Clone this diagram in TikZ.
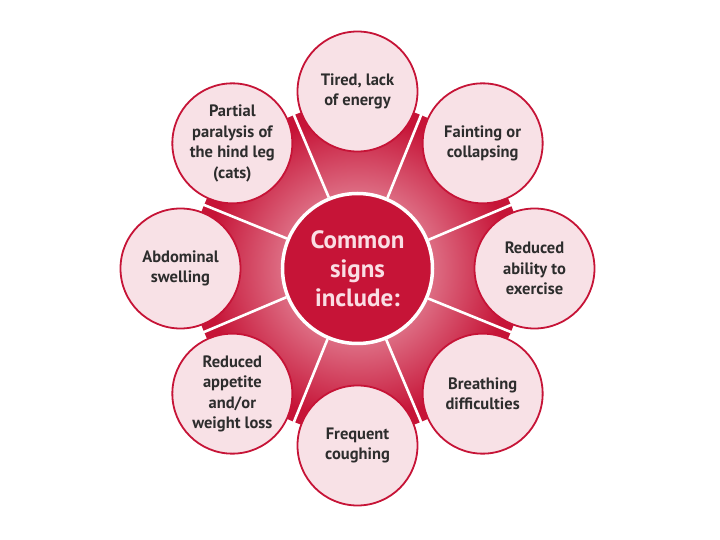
\documentclass[tikz,border=0pt]{standalone}
\usepackage{fontspec}
\setmainfont{PT Sans}
\usepackage{tikz}

\definecolor{signred}{RGB}{198,20,55}
\definecolor{signpink}{RGB}{248,225,230}
\definecolor{signtext}{RGB}{45,45,45}
\definecolor{hubtext}{RGB}{250,222,228}
\definecolor{glow}{RGB}{244,196,206}

\tikzset{
  sign/.style={circle, minimum size=120pt, inner sep=0pt, draw=signred, line width=1.8pt,
    fill=signpink, text=signtext, font=\bfseries\fontsize{16.5}{20.5}\selectfont, align=center},
  hub/.style={circle, minimum size=150pt, inner sep=0pt, draw=white, line width=3.5pt,
    fill=signred, text=hubtext, font=\bfseries\fontsize{25}{29}\selectfont, align=center},
  divider/.style={white, line width=2.6pt}
}

\begin{document}
\begin{tikzpicture}
  \useasboundingbox (-357.5pt,-271.5pt) rectangle (362.5pt,268.5pt);
  % red background with glow round the hub
  \fill[signred] (0,0) circle (166pt);
  \shade[inner color=glow, outer color=signred] (0,0) circle (152pt);
  \node[hub] (signs) at (0,0) {Common\\signs\\include:};
  % white dividers between the stalks
  \foreach \a in {22.5,67.5,...,337.5}
    \draw[divider] (signs.\a) -- (\a:168pt);
  % the signs
  \node[sign] (tired) at (90:177pt) {Tired, lack\\of energy};
  \node[sign] (fainting) at (45:177pt) {Fainting or\\collapsing};
  \node[sign] (exercise) at (0:177pt) {Reduced\\ability to\\exercise};
  \node[sign] (breathing) at (-45:177pt) {Breathing\\difficulties};
  \node[sign] (coughing) at (-90:177pt) {Frequent\\coughing};
  \node[sign] (appetite) at (-135:177pt) {Reduced\\appetite\\and/or\\weight loss};
  \node[sign] (swelling) at (180:177pt) {Abdominal\\swelling};
  \node[sign] (paralysis) at (135:177pt) {Partial\\paralysis of\\the hind leg\\(cats)};
\end{tikzpicture}
\end{document}
